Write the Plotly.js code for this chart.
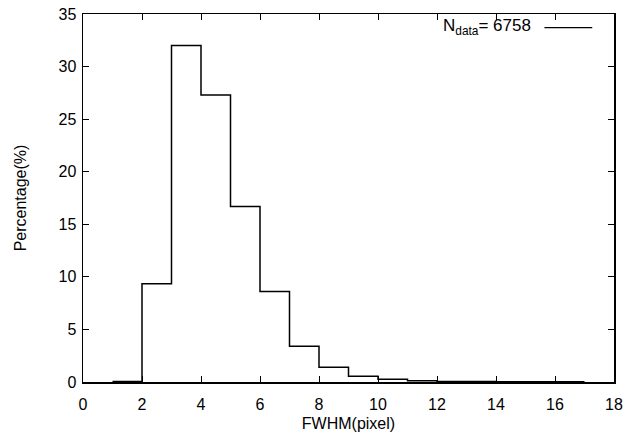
<!DOCTYPE html>
<html>
<head>
<meta charset="utf-8">
<script src="https://cdn.plot.ly/plotly-3.0.1.min.js"></script>
<style>html,body{margin:0;padding:0;background:#fff;}#chart{width:638px;height:438px;}</style>
</head>
<body>
<div id="chart"></div>
<script>
// Histogram bin edges (FWHM in pixels) and percentages per bin
var binEdges = [1, 2, 3, 4, 5, 6, 7, 8, 9, 10, 11, 12, 13, 14, 15, 16, 17];
var percentages = [0.05, 9.35, 32.0, 27.3, 16.7, 8.6, 3.4, 1.4, 0.55, 0.25, 0.12, 0.05, 0.04, 0.03, 0.02, 0.02];
var nData = 6758;
var xTicks = [0, 2, 4, 6, 8, 10, 12, 14, 16, 18];
var yTicks = [0, 5, 10, 15, 20, 25, 30, 35];

var stepY = percentages.concat([percentages[percentages.length - 1]]);

var font = {family: 'Liberation Sans, Arial, sans-serif', size: 16, color: '#000'};

var trace = {
  x: binEdges,
  y: stepY,
  type: 'scatter',
  mode: 'lines',
  line: {shape: 'hv', color: '#000', width: 1.5},
  showlegend: false,
  hoverinfo: 'skip'
};

var axisCommon = {
  showline: true, linecolor: '#000', linewidth: 1.5, mirror: 'ticks',
  ticks: 'inside', ticklen: 6, tickwidth: 1, tickcolor: '#000',
  showgrid: false, zeroline: false, tickfont: font
};

var layout = {
  width: 638, height: 438,
  margin: {l: 83, r: 24, t: 14, b: 56},
  paper_bgcolor: '#fff', plot_bgcolor: '#fff',
  font: font,
  xaxis: Object.assign({}, axisCommon, {
    range: [0, 18], tickvals: xTicks, ticktext: xTicks.map(String),
    ticklabelstandoff: 7,
    title: {text: 'FWHM(pixel)', font: font, standoff: 6}
  }),
  yaxis: Object.assign({}, axisCommon, {
    range: [0, 35], tickvals: yTicks, ticktext: yTicks.map(String),
    ticklabelstandoff: 2,
    title: {text: 'Percentage(%)', font: font, standoff: 28}
  }),
  annotations: [{
    xref: 'paper', yref: 'paper', x: 0.848, y: 0.965, xanchor: 'right', yanchor: 'middle',
    text: 'N<sub>data</sub>= ' + nData, showarrow: false, font: {family: font.family, size: 17, color: '#000'}
  }],
  shapes: [{
    type: 'line', xref: 'paper', yref: 'paper', x0: 0.869, x1: 0.959, y0: 0.963, y1: 0.963,
    line: {color: '#000', width: 1.2}
  }]
};

Plotly.newPlot('chart', [trace], layout, {staticPlot: true, displayModeBar: false});
</script>
</body>
</html>
